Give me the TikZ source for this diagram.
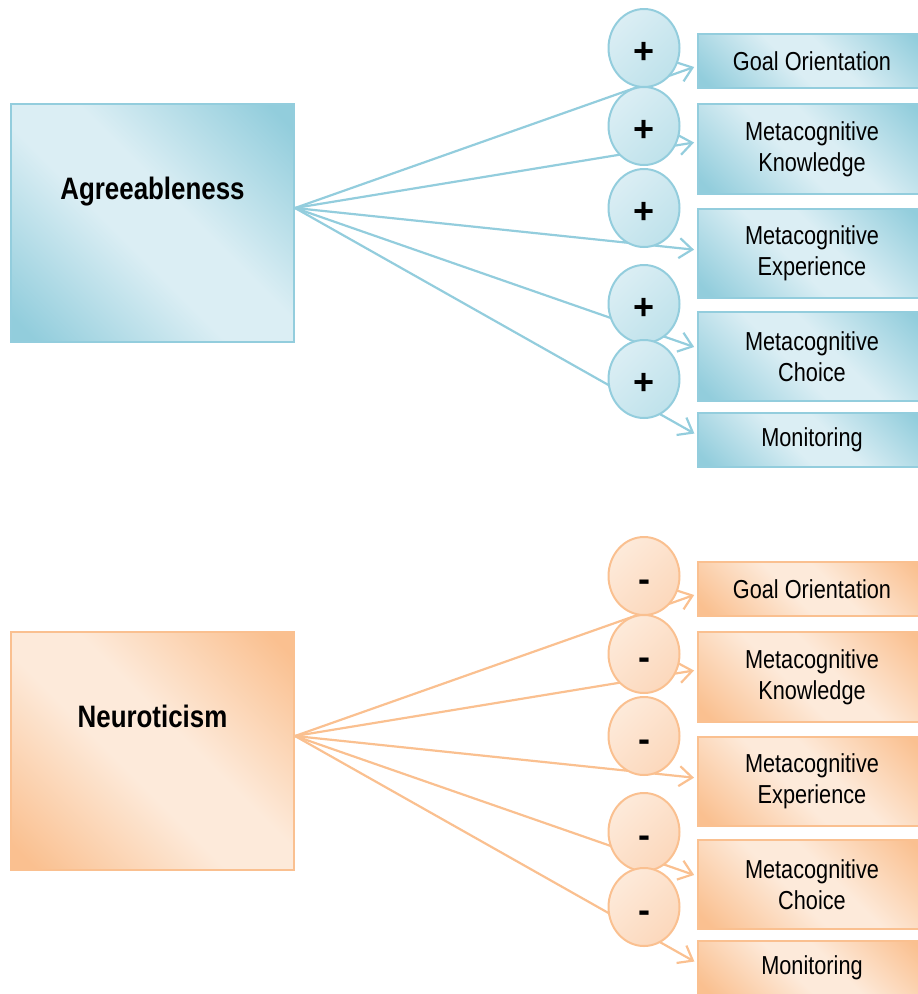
\documentclass[tikz,border=0pt]{standalone}
\usepackage{fontspec}
\setmainfont{Liberation Sans}[FakeStretch=0.835]
\newfontfamily\signfont{Liberation Sans}
\usetikzlibrary{shapes.geometric,arrows.meta,backgrounds}

\definecolor{bluedark}{HTML}{92CDDC}
\definecolor{bluelight}{HTML}{DBEEF4}
\definecolor{blueline}{HTML}{93CDDD}
\definecolor{bluemid}{HTML}{BFE2EB}
\definecolor{orangedark}{HTML}{FAC090}
\definecolor{orangelight}{HTML}{FDEADA}
\definecolor{orangeline}{HTML}{FAC090}
\definecolor{orangemid}{HTML}{FCD8BC}

% Diagonal fills: darker toward two opposite corners, pale across the middle
\pgfdeclareverticalshading{bluediag}{100bp}{color(0bp)=(bluedark); color(18bp)=(bluedark);
  color(44bp)=(bluelight); color(56bp)=(bluelight); color(82bp)=(bluedark); color(100bp)=(bluedark)}
\pgfdeclareverticalshading{orangediag}{100bp}{color(0bp)=(orangedark); color(18bp)=(orangedark);
  color(44bp)=(orangelight); color(56bp)=(orangelight); color(82bp)=(orangedark); color(100bp)=(orangedark)}

\tikzset{
  panel/.style={draw=#1line, line width=2pt, shade, shading=#1diag, shading angle=-45, inner sep=0pt},
  trait/.style={panel=#1, minimum width=283, minimum height=238},
  traitname/.style={font=\bfseries\fontsize{31}{37}\selectfont, inner sep=0pt, anchor=base},
  facet/.style={panel=#1, minimum width=228, align=center, font=\fontsize{26}{31}\selectfont},
  bubble/.style={ellipse, draw=#1line, line width=2pt, top color=#1light, bottom color=#1mid,
    shading angle=45, minimum width=71, minimum height=78, inner sep=0pt},
  sign/.style={font=\signfont\bfseries\fontsize{36}{36}\selectfont, inner sep=0pt, anchor=base},
  link/.style={draw=#1line, line width=2.2pt, -{Straight Barb[length=13pt,width=20pt]}, shorten >=3pt},
}

% One trait with its five facets: #1 name prefix, #2 colour prefix, #3 trait, #4 sign
\newcommand\traitgroup[4]{%
  \node[trait=#2] (#1) at (152.5,223) {};
  \node[traitname] (#1t) at (152.5,199.5) {#3};
  \node[facet=#2, minimum height=54] (#1g1) at (812,61) {Goal Orientation};
  \node[facet=#2, minimum height=90] (#1g2) at (812,149) {Metacognitive\\Knowledge};
  \node[facet=#2, minimum height=89] (#1g3) at (812,253.5) {Metacognitive\\Experience};
  \node[facet=#2, minimum height=89] (#1g4) at (812,356.5) {Metacognitive\\Choice};
  \node[facet=#2, minimum height=54] (#1g5) at (812,440) {Monitoring};
  \foreach \i/\y in {1/48,2/126,3/208,4/304,5/379} {
    \node[bubble=#2] (#1c\i) at (644,\y) {};
    \node[sign] (#1s\i) at ([yshift=-15pt]#1c\i.center) {#4};
  }
  \begin{scope}[on background layer]
    \foreach \i/\dy in {1/-5,2/7,3/3.5,4/8.5,5/5}
      \draw[link=#2] ([yshift=15pt]#1.east) -- ([yshift=\dy pt]#1g\i.west);
  \end{scope}
}

\begin{document}
\begin{tikzpicture}[x=1pt,y=-1pt]
  \clip (0,0) rectangle (918,994);
  \traitgroup{A}{blue}{Agreeableness}{+}
  \begin{scope}[yshift=-528pt]
    \traitgroup{N}{orange}{Neuroticism}{-}
  \end{scope}
\end{tikzpicture}
\end{document}
